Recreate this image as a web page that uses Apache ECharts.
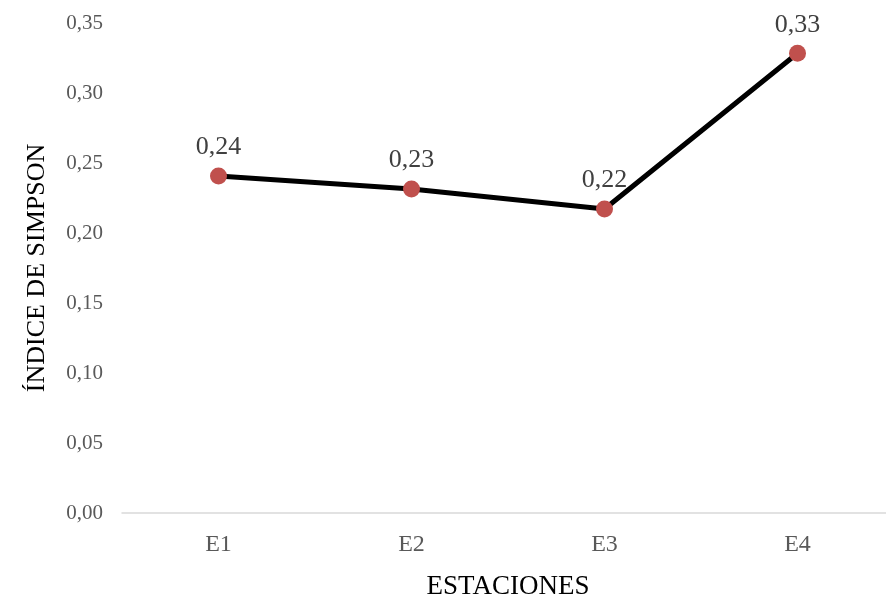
<!DOCTYPE html>
<html>
<head>
<meta charset="utf-8">
<script src="https://cdn.jsdelivr.net/npm/echarts@6/dist/echarts.min.js"></script>
<style>
html,body{margin:0;padding:0;background:#fff;}
#chart{width:886px;height:599px;}
</style>
</head>
<body>
<div id="chart"></div>
<script>
const categories = ['E1', 'E2', 'E3', 'E4'];
const simpsonValues = [0.2407, 0.2314, 0.2171, 0.3284];
const yTicks = [0, 0.05, 0.10, 0.15, 0.20, 0.25, 0.30, 0.35];
const xTitle = 'ESTACIONES';
const yTitle = 'ÍNDICE DE SIMPSON';

const FONT = '"Liberation Serif", "Times New Roman", serif';
const fmt = v => v.toFixed(2).replace('.', ',');

const chart = echarts.init(document.getElementById('chart'));
chart.setOption({
  animation: false,
  backgroundColor: '#ffffff',
  grid: { left: 122, top: 23, width: 772, height: 490, containLabel: false, outerBoundsMode: 'none' },
  xAxis: {
    type: 'category',
    data: categories,
    boundaryGap: true,
    axisLine: { show: true, lineStyle: { color: '#d9d9d9', width: 1.5 } },
    axisTick: { show: false },
    axisLabel: { color: '#595959', fontFamily: FONT, fontSize: 24, margin: 20 },
    name: xTitle,
    nameLocation: 'middle',
    nameGap: 60,
    nameTextStyle: { color: '#000000', fontFamily: FONT, fontSize: 27 }
  },
  yAxis: {
    type: 'value',
    min: yTicks[0],
    max: yTicks[yTicks.length - 1],
    interval: 0.05,
    axisLine: { show: false },
    axisTick: { show: false },
    splitLine: { show: false },
    axisLabel: { color: '#595959', fontFamily: FONT, fontSize: 21, margin: 19, formatter: v => fmt(v) },
    name: yTitle,
    nameLocation: 'middle',
    nameGap: 72,
    nameRotate: 90,
    nameTextStyle: { color: '#000000', fontFamily: FONT, fontSize: 26 }
  },
  series: [{
    type: 'line',
    data: simpsonValues,
    symbol: 'circle',
    symbolSize: 17,
    lineStyle: { color: '#000000', width: 5 },
    itemStyle: { color: '#C0504D', borderWidth: 0 },
    label: {
      show: true,
      position: 'top',
      distance: 7,
      color: '#404040',
      fontFamily: FONT,
      fontSize: 26,
      formatter: p => fmt(p.value)
    },
    z: 3
  }]
});
</script>
</body>
</html>
